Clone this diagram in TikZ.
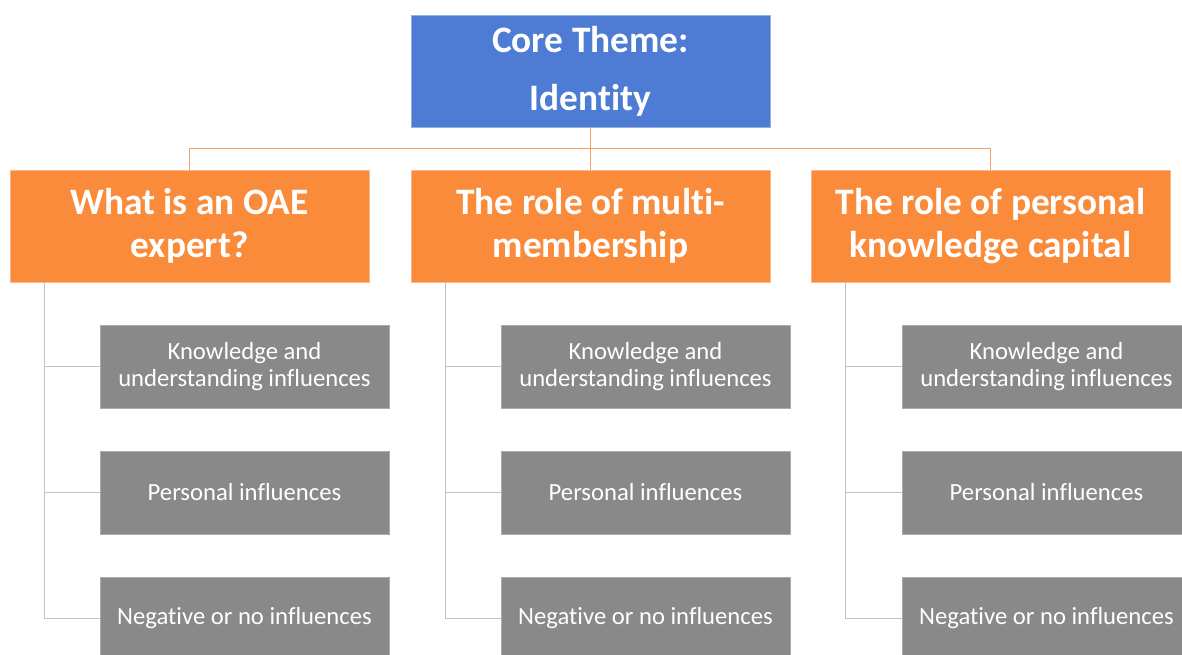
\documentclass[tikz,border=0pt]{standalone}
\usepackage{fontspec}
\setmainfont{Carlito}[Ligatures=NoCommon]
\usepackage{tikz}
\usetikzlibrary{calc}

\definecolor{coreblue}{RGB}{78,124,212}
\definecolor{themeorange}{RGB}{249,139,59}
\definecolor{infgrey}{RGB}{137,137,137}
\definecolor{lineorange}{RGB}{245,160,105}
\definecolor{linegrey}{RGB}{195,195,195}

\tikzset{
	coretheme/.style={fill=coreblue, draw=coreblue!60!white, line width=0.6pt, text=white, align=center,
		minimum width=269.25pt, minimum height=84pt, inner sep=0pt,
		font=\bfseries\fontsize{28}{43.5}\selectfont},
	theme/.style={fill=themeorange, draw=themeorange!60!white, line width=0.6pt, text=white, align=center,
		minimum width=269.25pt, minimum height=84pt, inner sep=0pt,
		font=\bfseries\fontsize{28}{32}\selectfont},
	influence/.style={fill=infgrey, draw=infgrey!70!white, line width=0.6pt, text=white, align=center,
		minimum width=216.75pt, minimum height=62.25pt, inner sep=0pt,
		font=\fontsize{18.5}{20.5}\selectfont},
	themelink/.style={draw=lineorange, line width=1.1pt},
	inflink/.style={draw=linegrey, line width=1.3pt}
}

\begin{document}
\begin{tikzpicture}[x=0.75pt, y=-0.75pt]
	\useasboundingbox (0,0) rectangle (1182,655);

	\node[coretheme]	(core)	at	(590.5,71)		{Core Theme:\\Identity};

	\node[theme]		(oae)	at	(189.5,226)		{What is an OAE\\expert?};
	\node[theme]		(multi)	at	(590.5,226)		{The role of multi-\\membership};
	\node[theme]		(pkc)	at	(990.5,226)		{The role of personal\\knowledge capital};

	\coordinate (hub) at ($ (core.south)!0.5!(multi.north) $);
	\draw[themelink] (core.south) -- (multi.north);
	\draw[themelink] (oae.north) |- (hub) -| (pkc.north);

	\node[influence]	(oaeK)		at	(244.5,366.5)	{Knowledge and\\understanding influences};
	\node[influence]	(oaeP)		at	(244.5,492.5)	{Personal influences};
	\node[influence]	(oaeN)		at	(244.5,618.5)	{Negative or no influences};

	\node[influence]	(multiK)	at	(645.5,366.5)	{Knowledge and\\understanding influences};
	\node[influence]	(multiP)	at	(645.5,492.5)	{Personal influences};
	\node[influence]	(multiN)	at	(645.5,618.5)	{Negative or no influences};

	\node[influence]	(pkcK)		at	(1046.5,366.5)	{Knowledge and\\understanding influences};
	\node[influence]	(pkcP)		at	(1046.5,492.5)	{Personal influences};
	\node[influence]	(pkcN)		at	(1046.5,618.5)	{Negative or no influences};

	\coordinate (oaeS)		at	($ (oae.south west) + (35,0) $);
	\coordinate (multiS)	at	($ (multi.south west) + (35,0) $);
	\coordinate (pkcS)		at	($ (pkc.south west) + (35,0) $);

	\draw[inflink] (oaeS) |- (oaeK.west);
	\draw[inflink] (oaeS) |- (oaeP.west);
	\draw[inflink] (oaeS) |- (oaeN.west);

	\draw[inflink] (multiS) |- (multiK.west);
	\draw[inflink] (multiS) |- (multiP.west);
	\draw[inflink] (multiS) |- (multiN.west);

	\draw[inflink] (pkcS) |- (pkcK.west);
	\draw[inflink] (pkcS) |- (pkcP.west);
	\draw[inflink] (pkcS) |- (pkcN.west);
\end{tikzpicture}
\end{document}
